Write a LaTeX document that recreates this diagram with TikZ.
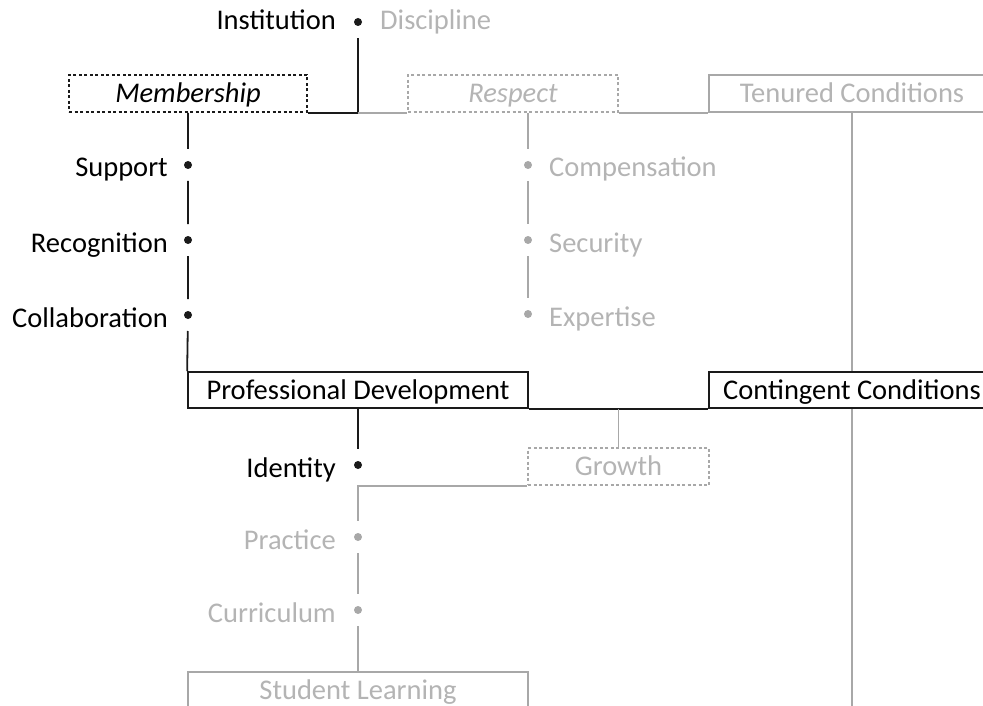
\documentclass[tikz,border=0pt]{standalone}
\usepackage{fontspec}
\setmainfont{Carlito}
\usetikzlibrary{positioning}
\definecolor{on}{HTML}{1A1A1A}
\definecolor{off}{HTML}{A8A8A8}
\definecolor{offtxt}{HTML}{B4B4B4}
\tikzset{
  box/.style={draw=on,line width=1.7pt,fill=white,inner sep=0pt,minimum height=37pt,
    text height=21pt,text depth=3pt,font=\fontsize{28.5}{34}\selectfont},
  obox/.style={box,draw=off,text=offtxt},
  dbox/.style={box,dash pattern=on 3pt off 2.5pt},
  odbox/.style={obox,dash pattern=on 3pt off 2.5pt},
  dot/.style={circle,fill=on,inner sep=0pt,minimum size=8pt,outer sep=12pt},
  odot/.style={dot,fill=off},
  lbl/.style={inner sep=0pt,font=\fontsize{28.5}{34}\selectfont},
  olbl/.style={lbl,text=offtxt},
  ln/.style={draw=on,line width=1.8pt},
  oln/.style={draw=off,line width=1.6pt},
}
\begin{document}
\begin{tikzpicture}[x=1pt,y=-1pt]
  \clip (0,0) rectangle (983,706);
  % ---- top row
  \node[dbox,minimum width=238pt] (mem) at (188,93.5) {\itshape Membership};
  \node[odbox,minimum width=210pt] (res) at (513,93.5) {\itshape Respect};
  \node[obox,minimum width=286pt] (ten) at (852,93.5) {Tenured Conditions};

  \node[dot] (inst) at (358,22) {};
  \node[lbl,anchor=base east] (instL) at ([xshift=-22pt,yshift=-8pt]inst.center) {Institution};
  \node[olbl,anchor=base west] (disL) at ([xshift=22pt,yshift=-8pt]inst.center) {Discipline};

  \draw[ln] (mem.south east) -| (inst);
  \draw[oln] (inst |- mem.south) -- (res.south west);
  \draw[oln] (res.south east) -- (ten.south west);

  % ---- membership branch
  \node[dot] (sup) at (188,165) {};
  \node[dot] (rec) at (188,240) {};
  \node[dot] (col) at (188,315) {};
  \node[lbl,anchor=base east] (supL) at ([xshift=-20pt,yshift=-12pt]sup.center) {Support};
  \node[lbl,anchor=base east] (recL) at ([xshift=-20pt,yshift=-12pt]rec.center) {Recognition};
  \node[lbl,anchor=base east] (colL) at ([xshift=-20pt,yshift=-12pt]col.center) {Collaboration};

  % ---- respect branch
  \node[odot] (comp) at (528,165) {};
  \node[odot] (sec) at (528,240) {};
  \node[odot] (exp) at (528,314) {};
  \node[olbl,anchor=base west] (compL) at ([xshift=21pt,yshift=-12pt]comp.center) {Compensation};
  \node[olbl,anchor=base west] (secL) at ([xshift=21pt,yshift=-12pt]sec.center) {Security};
  \node[olbl,anchor=base west] (expL) at ([xshift=21pt,yshift=-12pt]exp.center) {Expertise};
  \draw[oln] (comp |- res.south) -- (comp) -- (sec) -- (exp);

  % ---- middle row
  \node[box,minimum width=340pt,minimum height=36pt] (pd) at (358,390) {Professional Development};
  \coordinate (tend) at (852,720);
  \draw[oln] (ten.south) -- (tend);
  \node[box,minimum width=286pt,minimum height=36pt] (con) at (852,390) {Contingent Conditions};
  \draw[ln] (mem.south) -- (sup) -- (rec) -- (col) -- (pd.north west);
  \draw[ln] (pd.south east) -- (con.south west);

  % ---- lower branch
  \node[odbox,minimum width=181pt] (gro) at (618.5,466.5) {Growth};
  \draw[oln] (gro.north) -- (gro.north |- pd.south);

  \node[dot] (ide) at (358,465) {};
  \node[odot] (pra) at (358,537) {};
  \node[odot] (cur) at (358,610) {};
  \node[lbl,anchor=base east] (ideL) at ([xshift=-22pt,yshift=-12pt]ide.center) {Identity};
  \node[olbl,anchor=base east] (praL) at ([xshift=-22pt,yshift=-12pt]pra.center) {Practice};
  \node[olbl,anchor=base east] (curL) at ([xshift=-22pt,yshift=-12pt]cur.center) {Curriculum};
  \draw[ln] (pd.south) -- (ide);

  \node[obox,minimum width=340pt] (stu) at (358,690.5) {Student Learning};
  \draw[oln] (gro.south west) -| (pra);
  \draw[oln] (pra) -- (cur) -- (stu.north);
\end{tikzpicture}
\end{document}
